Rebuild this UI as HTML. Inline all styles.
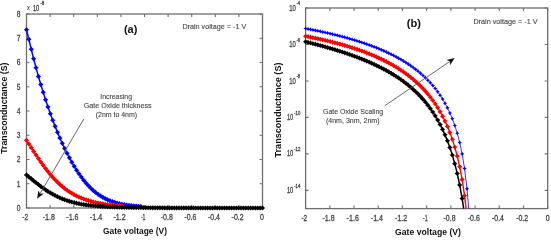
<!DOCTYPE html>
<html><head><meta charset="utf-8"><style>
html,body{margin:0;padding:0;background:#fff;}
body{width:551px;height:240px;overflow:hidden;}
svg{display:block;font-family:"Liberation Sans",sans-serif;will-change:transform;filter:blur(0.3px);}
</style></head><body>
<svg width="551" height="240" viewBox="0 0 551 240">
<rect x="26.5" y="14.0" width="236.00" height="194.00" fill="none" stroke="#6e6e6e" stroke-width="1.3"/>
<path d="M26.50 208.0v-3.0M26.50 14.0v3.0M50.10 208.0v-3.0M50.10 14.0v3.0M73.70 208.0v-3.0M73.70 14.0v3.0M97.30 208.0v-3.0M97.30 14.0v3.0M120.90 208.0v-3.0M120.90 14.0v3.0M144.50 208.0v-3.0M144.50 14.0v3.0M168.10 208.0v-3.0M168.10 14.0v3.0M191.70 208.0v-3.0M191.70 14.0v3.0M215.30 208.0v-3.0M215.30 14.0v3.0M238.90 208.0v-3.0M238.90 14.0v3.0M262.50 208.0v-3.0M262.50 14.0v3.0M26.5 208.00h3.0M262.5 208.00h-3.0M26.5 183.75h3.0M262.5 183.75h-3.0M26.5 159.50h3.0M262.5 159.50h-3.0M26.5 135.25h3.0M262.5 135.25h-3.0M26.5 111.00h3.0M262.5 111.00h-3.0M26.5 86.75h3.0M262.5 86.75h-3.0M26.5 62.50h3.0M262.5 62.50h-3.0M26.5 38.25h3.0M262.5 38.25h-3.0M26.5 14.00h3.0M262.5 14.00h-3.0" stroke="#6e6e6e" stroke-width="1.1" fill="none"/>
<rect x="305.6" y="8.0" width="242.10" height="200.60" fill="none" stroke="#6e6e6e" stroke-width="1.3"/>
<path d="M305.60 208.6v-3.0M305.60 8.0v3.0M329.81 208.6v-3.0M329.81 8.0v3.0M354.02 208.6v-3.0M354.02 8.0v3.0M378.23 208.6v-3.0M378.23 8.0v3.0M402.44 208.6v-3.0M402.44 8.0v3.0M426.65 208.6v-3.0M426.65 8.0v3.0M450.86 208.6v-3.0M450.86 8.0v3.0M475.07 208.6v-3.0M475.07 8.0v3.0M499.28 208.6v-3.0M499.28 8.0v3.0M523.49 208.6v-3.0M523.49 8.0v3.0M547.70 208.6v-3.0M547.70 8.0v3.0M305.6 8.00h3.0M547.7 8.00h-3.0M305.6 44.47h3.0M547.7 44.47h-3.0M305.6 80.95h3.0M547.7 80.95h-3.0M305.6 117.42h3.0M547.7 117.42h-3.0M305.6 153.89h3.0M547.7 153.89h-3.0M305.6 190.36h3.0M547.7 190.36h-3.0" stroke="#6e6e6e" stroke-width="1.1" fill="none"/>
<text x="25.20" y="220.4" font-size="8.7" font-weight="normal" text-anchor="middle" fill="#3c3c3c" stroke="#3c3c3c" stroke-width="0.28" textLength="5.8" lengthAdjust="spacingAndGlyphs">-2</text>
<text x="304.30" y="221.1" font-size="8.7" font-weight="normal" text-anchor="middle" fill="#3c3c3c" stroke="#3c3c3c" stroke-width="0.28" textLength="5.8" lengthAdjust="spacingAndGlyphs">-2</text>
<text x="48.80" y="220.4" font-size="8.7" font-weight="normal" text-anchor="middle" fill="#3c3c3c" stroke="#3c3c3c" stroke-width="0.28" textLength="12.25" lengthAdjust="spacingAndGlyphs">-1.8</text>
<text x="328.51" y="221.1" font-size="8.7" font-weight="normal" text-anchor="middle" fill="#3c3c3c" stroke="#3c3c3c" stroke-width="0.28" textLength="12.25" lengthAdjust="spacingAndGlyphs">-1.8</text>
<text x="72.40" y="220.4" font-size="8.7" font-weight="normal" text-anchor="middle" fill="#3c3c3c" stroke="#3c3c3c" stroke-width="0.28" textLength="12.25" lengthAdjust="spacingAndGlyphs">-1.6</text>
<text x="352.72" y="221.1" font-size="8.7" font-weight="normal" text-anchor="middle" fill="#3c3c3c" stroke="#3c3c3c" stroke-width="0.28" textLength="12.25" lengthAdjust="spacingAndGlyphs">-1.6</text>
<text x="96.00" y="220.4" font-size="8.7" font-weight="normal" text-anchor="middle" fill="#3c3c3c" stroke="#3c3c3c" stroke-width="0.28" textLength="12.25" lengthAdjust="spacingAndGlyphs">-1.4</text>
<text x="376.93" y="221.1" font-size="8.7" font-weight="normal" text-anchor="middle" fill="#3c3c3c" stroke="#3c3c3c" stroke-width="0.28" textLength="12.25" lengthAdjust="spacingAndGlyphs">-1.4</text>
<text x="119.60" y="220.4" font-size="8.7" font-weight="normal" text-anchor="middle" fill="#3c3c3c" stroke="#3c3c3c" stroke-width="0.28" textLength="12.25" lengthAdjust="spacingAndGlyphs">-1.2</text>
<text x="401.14" y="221.1" font-size="8.7" font-weight="normal" text-anchor="middle" fill="#3c3c3c" stroke="#3c3c3c" stroke-width="0.28" textLength="12.25" lengthAdjust="spacingAndGlyphs">-1.2</text>
<text x="143.20" y="220.4" font-size="8.7" font-weight="normal" text-anchor="middle" fill="#3c3c3c" stroke="#3c3c3c" stroke-width="0.28" textLength="4.6" lengthAdjust="spacingAndGlyphs">-1</text>
<text x="425.35" y="221.1" font-size="8.7" font-weight="normal" text-anchor="middle" fill="#3c3c3c" stroke="#3c3c3c" stroke-width="0.28" textLength="4.6" lengthAdjust="spacingAndGlyphs">-1</text>
<text x="166.80" y="220.4" font-size="8.7" font-weight="normal" text-anchor="middle" fill="#3c3c3c" stroke="#3c3c3c" stroke-width="0.28" textLength="12.0" lengthAdjust="spacingAndGlyphs">-0.8</text>
<text x="449.56" y="221.1" font-size="8.7" font-weight="normal" text-anchor="middle" fill="#3c3c3c" stroke="#3c3c3c" stroke-width="0.28" textLength="12.0" lengthAdjust="spacingAndGlyphs">-0.8</text>
<text x="190.40" y="220.4" font-size="8.7" font-weight="normal" text-anchor="middle" fill="#3c3c3c" stroke="#3c3c3c" stroke-width="0.28" textLength="12.0" lengthAdjust="spacingAndGlyphs">-0.6</text>
<text x="473.77" y="221.1" font-size="8.7" font-weight="normal" text-anchor="middle" fill="#3c3c3c" stroke="#3c3c3c" stroke-width="0.28" textLength="12.0" lengthAdjust="spacingAndGlyphs">-0.6</text>
<text x="214.00" y="220.4" font-size="8.7" font-weight="normal" text-anchor="middle" fill="#3c3c3c" stroke="#3c3c3c" stroke-width="0.28" textLength="12.0" lengthAdjust="spacingAndGlyphs">-0.4</text>
<text x="497.98" y="221.1" font-size="8.7" font-weight="normal" text-anchor="middle" fill="#3c3c3c" stroke="#3c3c3c" stroke-width="0.28" textLength="12.0" lengthAdjust="spacingAndGlyphs">-0.4</text>
<text x="237.60" y="220.4" font-size="8.7" font-weight="normal" text-anchor="middle" fill="#3c3c3c" stroke="#3c3c3c" stroke-width="0.28" textLength="12.0" lengthAdjust="spacingAndGlyphs">-0.2</text>
<text x="522.19" y="221.1" font-size="8.7" font-weight="normal" text-anchor="middle" fill="#3c3c3c" stroke="#3c3c3c" stroke-width="0.28" textLength="12.0" lengthAdjust="spacingAndGlyphs">-0.2</text>
<text x="262.00" y="220.4" font-size="8.7" font-weight="normal" text-anchor="middle" fill="#3c3c3c" stroke="#3c3c3c" stroke-width="0.28" textLength="3.9" lengthAdjust="spacingAndGlyphs">0</text>
<text x="547.70" y="221.1" font-size="8.7" font-weight="normal" text-anchor="middle" fill="#3c3c3c" stroke="#3c3c3c" stroke-width="0.28" textLength="3.9" lengthAdjust="spacingAndGlyphs">0</text>
<text x="20.5" y="210.90" font-size="8.6" font-weight="normal" text-anchor="end" fill="#3c3c3c" stroke="#3c3c3c" stroke-width="0.28" textLength="3.7" lengthAdjust="spacingAndGlyphs">0</text>
<text x="20.5" y="186.65" font-size="8.6" font-weight="normal" text-anchor="end" fill="#3c3c3c" stroke="#3c3c3c" stroke-width="0.28" textLength="3.7" lengthAdjust="spacingAndGlyphs">1</text>
<text x="20.5" y="162.40" font-size="8.6" font-weight="normal" text-anchor="end" fill="#3c3c3c" stroke="#3c3c3c" stroke-width="0.28" textLength="3.7" lengthAdjust="spacingAndGlyphs">2</text>
<text x="20.5" y="138.15" font-size="8.6" font-weight="normal" text-anchor="end" fill="#3c3c3c" stroke="#3c3c3c" stroke-width="0.28" textLength="3.7" lengthAdjust="spacingAndGlyphs">3</text>
<text x="20.5" y="113.90" font-size="8.6" font-weight="normal" text-anchor="end" fill="#3c3c3c" stroke="#3c3c3c" stroke-width="0.28" textLength="3.7" lengthAdjust="spacingAndGlyphs">4</text>
<text x="20.5" y="89.65" font-size="8.6" font-weight="normal" text-anchor="end" fill="#3c3c3c" stroke="#3c3c3c" stroke-width="0.28" textLength="3.7" lengthAdjust="spacingAndGlyphs">5</text>
<text x="20.5" y="65.40" font-size="8.6" font-weight="normal" text-anchor="end" fill="#3c3c3c" stroke="#3c3c3c" stroke-width="0.28" textLength="3.7" lengthAdjust="spacingAndGlyphs">6</text>
<text x="20.5" y="41.15" font-size="8.6" font-weight="normal" text-anchor="end" fill="#3c3c3c" stroke="#3c3c3c" stroke-width="0.28" textLength="3.7" lengthAdjust="spacingAndGlyphs">7</text>
<text x="20.5" y="16.90" font-size="8.6" font-weight="normal" text-anchor="end" fill="#3c3c3c" stroke="#3c3c3c" stroke-width="0.28" textLength="3.7" lengthAdjust="spacingAndGlyphs">8</text>
<text x="289.2" y="10.60" font-size="8.8" font-weight="normal" text-anchor="start" fill="#3c3c3c" stroke="#3c3c3c" stroke-width="0.28" textLength="6.6" lengthAdjust="spacingAndGlyphs">10</text>
<text x="296.4" y="5.40" font-size="5.4" font-weight="normal" text-anchor="start" fill="#3c3c3c" stroke="#3c3c3c" stroke-width="0.28" textLength="3.6" lengthAdjust="spacingAndGlyphs">-4</text>
<text x="289.2" y="47.07" font-size="8.8" font-weight="normal" text-anchor="start" fill="#3c3c3c" stroke="#3c3c3c" stroke-width="0.28" textLength="6.6" lengthAdjust="spacingAndGlyphs">10</text>
<text x="296.4" y="41.87" font-size="5.4" font-weight="normal" text-anchor="start" fill="#3c3c3c" stroke="#3c3c3c" stroke-width="0.28" textLength="3.6" lengthAdjust="spacingAndGlyphs">-6</text>
<text x="289.2" y="83.55" font-size="8.8" font-weight="normal" text-anchor="start" fill="#3c3c3c" stroke="#3c3c3c" stroke-width="0.28" textLength="6.6" lengthAdjust="spacingAndGlyphs">10</text>
<text x="296.4" y="78.35" font-size="5.4" font-weight="normal" text-anchor="start" fill="#3c3c3c" stroke="#3c3c3c" stroke-width="0.28" textLength="3.6" lengthAdjust="spacingAndGlyphs">-8</text>
<text x="286.9" y="120.02" font-size="8.8" font-weight="normal" text-anchor="start" fill="#3c3c3c" stroke="#3c3c3c" stroke-width="0.28" textLength="6.4" lengthAdjust="spacingAndGlyphs">10</text>
<text x="294.1" y="114.82" font-size="5.4" font-weight="normal" text-anchor="start" fill="#3c3c3c" stroke="#3c3c3c" stroke-width="0.28" textLength="6.2" lengthAdjust="spacingAndGlyphs">-10</text>
<text x="286.9" y="156.49" font-size="8.8" font-weight="normal" text-anchor="start" fill="#3c3c3c" stroke="#3c3c3c" stroke-width="0.28" textLength="6.4" lengthAdjust="spacingAndGlyphs">10</text>
<text x="294.1" y="151.29" font-size="5.4" font-weight="normal" text-anchor="start" fill="#3c3c3c" stroke="#3c3c3c" stroke-width="0.28" textLength="6.2" lengthAdjust="spacingAndGlyphs">-12</text>
<text x="286.9" y="192.96" font-size="8.8" font-weight="normal" text-anchor="start" fill="#3c3c3c" stroke="#3c3c3c" stroke-width="0.28" textLength="6.4" lengthAdjust="spacingAndGlyphs">10</text>
<text x="294.1" y="187.76" font-size="5.4" font-weight="normal" text-anchor="start" fill="#3c3c3c" stroke="#3c3c3c" stroke-width="0.28" textLength="6.2" lengthAdjust="spacingAndGlyphs">-14</text>
<text x="27.1" y="9.9" font-size="6.6" font-weight="normal" text-anchor="start" fill="#3c3c3c" stroke="#3c3c3c" stroke-width="0.1" textLength="2.8" lengthAdjust="spacingAndGlyphs">x</text>
<text x="32.9" y="10.7" font-size="9.0" font-weight="normal" text-anchor="start" fill="#3c3c3c" stroke="#3c3c3c" stroke-width="0.28" textLength="6.4" lengthAdjust="spacingAndGlyphs">10</text>
<text x="40.2" y="5.4" font-size="6.0" font-weight="normal" text-anchor="start" fill="#3c3c3c" stroke="#3c3c3c" stroke-width="0.28" textLength="4.0" lengthAdjust="spacingAndGlyphs">-8</text>
<path d="M26.50 29.70 L28.88 39.36 L31.27 49.35 L33.65 58.84 L36.04 67.84 L38.42 76.42 L40.80 84.58 L43.19 92.37 L45.57 99.81 L47.95 106.91 L50.34 113.70 L52.72 120.18 L55.11 126.37 L57.49 132.28 L59.87 137.92 L62.26 143.29 L64.64 148.39 L67.03 153.24 L69.41 157.84 L71.79 162.19 L74.18 166.29 L76.56 170.14 L78.94 173.76 L81.33 177.12 L83.71 180.25 L86.10 183.14 L88.48 185.79 L90.86 188.23 L93.25 190.44 L95.63 192.44 L98.02 194.25 L100.40 195.86 L102.78 197.30 L105.17 198.58 L107.55 199.72 L109.93 200.72 L112.32 201.60 L114.70 202.37 L117.09 203.05 L119.47 203.64 L121.85 204.15 L124.24 204.60 L126.62 204.99 L129.01 205.33 L131.39 205.62 L133.77 205.88 L136.16 206.10 L138.54 206.29 L140.92 206.45" fill="none" stroke="#0000ff" stroke-width="1.5"/>
<path d="M23.90 29.70L25.25 28.45L26.50 27.10L27.75 28.45L29.10 29.70L27.75 30.95L26.50 32.30L25.25 30.95ZM26.28 39.36L27.63 38.11L28.88 36.76L30.13 38.11L31.48 39.36L30.13 40.61L28.88 41.96L27.63 40.61ZM28.67 49.35L30.02 48.10L31.27 46.75L32.52 48.10L33.87 49.35L32.52 50.60L31.27 51.95L30.02 50.60ZM31.05 58.84L32.40 57.59L33.65 56.24L34.90 57.59L36.25 58.84L34.90 60.09L33.65 61.44L32.40 60.09ZM33.44 67.84L34.79 66.59L36.04 65.24L37.29 66.59L38.64 67.84L37.29 69.09L36.04 70.44L34.79 69.09ZM35.82 76.42L37.17 75.17L38.42 73.82L39.67 75.17L41.02 76.42L39.67 77.67L38.42 79.02L37.17 77.67ZM38.20 84.58L39.55 83.33L40.80 81.98L42.05 83.33L43.40 84.58L42.05 85.83L40.80 87.18L39.55 85.83ZM40.59 92.37L41.94 91.12L43.19 89.77L44.44 91.12L45.79 92.37L44.44 93.62L43.19 94.97L41.94 93.62ZM42.97 99.81L44.32 98.56L45.57 97.21L46.82 98.56L48.17 99.81L46.82 101.06L45.57 102.41L44.32 101.06ZM45.35 106.91L46.70 105.66L47.95 104.31L49.20 105.66L50.55 106.91L49.20 108.16L47.95 109.51L46.70 108.16ZM47.74 113.70L49.09 112.45L50.34 111.10L51.59 112.45L52.94 113.70L51.59 114.95L50.34 116.30L49.09 114.95ZM50.12 120.18L51.47 118.93L52.72 117.58L53.97 118.93L55.32 120.18L53.97 121.43L52.72 122.78L51.47 121.43ZM52.51 126.37L53.86 125.12L55.11 123.77L56.36 125.12L57.71 126.37L56.36 127.62L55.11 128.97L53.86 127.62ZM54.89 132.28L56.24 131.03L57.49 129.68L58.74 131.03L60.09 132.28L58.74 133.53L57.49 134.88L56.24 133.53ZM57.27 137.92L58.62 136.67L59.87 135.32L61.12 136.67L62.47 137.92L61.12 139.17L59.87 140.52L58.62 139.17ZM59.66 143.29L61.01 142.04L62.26 140.69L63.51 142.04L64.86 143.29L63.51 144.54L62.26 145.89L61.01 144.54ZM62.04 148.39L63.39 147.14L64.64 145.79L65.89 147.14L67.24 148.39L65.89 149.64L64.64 150.99L63.39 149.64ZM64.43 153.24L65.78 151.99L67.03 150.64L68.28 151.99L69.63 153.24L68.28 154.49L67.03 155.84L65.78 154.49ZM66.81 157.84L68.16 156.59L69.41 155.24L70.66 156.59L72.01 157.84L70.66 159.09L69.41 160.44L68.16 159.09ZM69.19 162.19L70.54 160.94L71.79 159.59L73.04 160.94L74.39 162.19L73.04 163.44L71.79 164.79L70.54 163.44ZM71.58 166.29L72.93 165.04L74.18 163.69L75.43 165.04L76.78 166.29L75.43 167.54L74.18 168.89L72.93 167.54ZM73.96 170.14L75.31 168.89L76.56 167.54L77.81 168.89L79.16 170.14L77.81 171.39L76.56 172.74L75.31 171.39ZM76.34 173.76L77.69 172.51L78.94 171.16L80.19 172.51L81.54 173.76L80.19 175.01L78.94 176.36L77.69 175.01ZM78.73 177.12L80.08 175.87L81.33 174.52L82.58 175.87L83.93 177.12L82.58 178.37L81.33 179.72L80.08 178.37ZM81.11 180.25L82.46 179.00L83.71 177.65L84.96 179.00L86.31 180.25L84.96 181.50L83.71 182.85L82.46 181.50ZM83.50 183.14L84.85 181.89L86.10 180.54L87.35 181.89L88.70 183.14L87.35 184.39L86.10 185.74L84.85 184.39ZM85.88 185.79L87.23 184.54L88.48 183.19L89.73 184.54L91.08 185.79L89.73 187.04L88.48 188.39L87.23 187.04ZM88.26 188.23L89.61 186.98L90.86 185.63L92.11 186.98L93.46 188.23L92.11 189.48L90.86 190.83L89.61 189.48ZM90.65 190.44L92.00 189.19L93.25 187.84L94.50 189.19L95.85 190.44L94.50 191.69L93.25 193.04L92.00 191.69ZM93.03 192.44L94.38 191.19L95.63 189.84L96.88 191.19L98.23 192.44L96.88 193.69L95.63 195.04L94.38 193.69ZM95.42 194.25L96.77 193.00L98.02 191.65L99.27 193.00L100.62 194.25L99.27 195.50L98.02 196.85L96.77 195.50ZM97.80 195.86L99.15 194.61L100.40 193.26L101.65 194.61L103.00 195.86L101.65 197.11L100.40 198.46L99.15 197.11ZM100.18 197.30L101.53 196.05L102.78 194.70L104.03 196.05L105.38 197.30L104.03 198.55L102.78 199.90L101.53 198.55ZM102.57 198.58L103.92 197.33L105.17 195.98L106.42 197.33L107.77 198.58L106.42 199.83L105.17 201.18L103.92 199.83ZM104.95 199.72L106.30 198.47L107.55 197.12L108.80 198.47L110.15 199.72L108.80 200.97L107.55 202.32L106.30 200.97ZM107.33 200.72L108.68 199.47L109.93 198.12L111.18 199.47L112.53 200.72L111.18 201.97L109.93 203.32L108.68 201.97ZM109.72 201.60L111.07 200.35L112.32 199.00L113.57 200.35L114.92 201.60L113.57 202.85L112.32 204.20L111.07 202.85ZM112.10 202.37L113.45 201.12L114.70 199.77L115.95 201.12L117.30 202.37L115.95 203.62L114.70 204.97L113.45 203.62ZM114.49 203.05L115.84 201.80L117.09 200.45L118.34 201.80L119.69 203.05L118.34 204.30L117.09 205.65L115.84 204.30ZM116.87 203.64L118.22 202.39L119.47 201.04L120.72 202.39L122.07 203.64L120.72 204.89L119.47 206.24L118.22 204.89ZM119.25 204.15L120.60 202.90L121.85 201.55L123.10 202.90L124.45 204.15L123.10 205.40L121.85 206.75L120.60 205.40ZM121.64 204.60L122.99 203.35L124.24 202.00L125.49 203.35L126.84 204.60L125.49 205.85L124.24 207.20L122.99 205.85ZM124.02 204.99L125.37 203.74L126.62 202.39L127.87 203.74L129.22 204.99L127.87 206.24L126.62 207.59L125.37 206.24ZM126.41 205.33L127.76 204.08L129.01 202.73L130.26 204.08L131.61 205.33L130.26 206.58L129.01 207.93L127.76 206.58ZM128.79 205.62L130.14 204.37L131.39 203.02L132.64 204.37L133.99 205.62L132.64 206.87L131.39 208.22L130.14 206.87ZM131.17 205.88L132.52 204.63L133.77 203.28L135.02 204.63L136.37 205.88L135.02 207.13L133.77 208.48L132.52 207.13ZM133.56 206.10L134.91 204.85L136.16 203.50L137.41 204.85L138.76 206.10L137.41 207.35L136.16 208.70L134.91 207.35ZM135.94 206.29L137.29 205.04L138.54 203.69L139.79 205.04L141.14 206.29L139.79 207.54L138.54 208.89L137.29 207.54ZM138.32 206.45L139.67 205.20L140.92 203.85L142.17 205.20L143.52 206.45L142.17 207.70L140.92 209.05L139.67 207.70Z" fill="#0000ff"/>
<path d="M26.50 140.28 L28.88 143.98 L31.27 147.70 L33.65 151.39 L36.04 155.03 L38.42 158.58 L40.80 162.03 L43.19 165.36 L45.57 168.55 L47.95 171.60 L50.34 174.48 L52.72 177.20 L55.11 179.76 L57.49 182.16 L59.87 184.39 L62.26 186.46 L64.64 188.38 L67.03 190.15 L69.41 191.78 L71.79 193.27 L74.18 194.64 L76.56 195.89 L78.94 197.02 L81.33 198.06 L83.71 199.00 L86.10 199.85 L88.48 200.61 L90.86 201.31 L93.25 201.94 L95.63 202.50 L98.02 203.01 L100.40 203.47 L102.78 203.88 L105.17 204.25 L107.55 204.58 L109.93 204.88 L112.32 205.15 L114.70 205.39 L117.09 205.60 L119.47 205.79 L121.85 205.97" fill="none" stroke="#ff0000" stroke-width="1.5"/>
<path d="M23.90 140.28L25.25 139.03L26.50 137.68L27.75 139.03L29.10 140.28L27.75 141.53L26.50 142.88L25.25 141.53ZM26.28 143.98L27.63 142.73L28.88 141.38L30.13 142.73L31.48 143.98L30.13 145.23L28.88 146.58L27.63 145.23ZM28.67 147.70L30.02 146.45L31.27 145.10L32.52 146.45L33.87 147.70L32.52 148.95L31.27 150.30L30.02 148.95ZM31.05 151.39L32.40 150.14L33.65 148.79L34.90 150.14L36.25 151.39L34.90 152.64L33.65 153.99L32.40 152.64ZM33.44 155.03L34.79 153.78L36.04 152.43L37.29 153.78L38.64 155.03L37.29 156.28L36.04 157.63L34.79 156.28ZM35.82 158.58L37.17 157.33L38.42 155.98L39.67 157.33L41.02 158.58L39.67 159.83L38.42 161.18L37.17 159.83ZM38.20 162.03L39.55 160.78L40.80 159.43L42.05 160.78L43.40 162.03L42.05 163.28L40.80 164.63L39.55 163.28ZM40.59 165.36L41.94 164.11L43.19 162.76L44.44 164.11L45.79 165.36L44.44 166.61L43.19 167.96L41.94 166.61ZM42.97 168.55L44.32 167.30L45.57 165.95L46.82 167.30L48.17 168.55L46.82 169.80L45.57 171.15L44.32 169.80ZM45.35 171.60L46.70 170.35L47.95 169.00L49.20 170.35L50.55 171.60L49.20 172.85L47.95 174.20L46.70 172.85ZM47.74 174.48L49.09 173.23L50.34 171.88L51.59 173.23L52.94 174.48L51.59 175.73L50.34 177.08L49.09 175.73ZM50.12 177.20L51.47 175.95L52.72 174.60L53.97 175.95L55.32 177.20L53.97 178.45L52.72 179.80L51.47 178.45ZM52.51 179.76L53.86 178.51L55.11 177.16L56.36 178.51L57.71 179.76L56.36 181.01L55.11 182.36L53.86 181.01ZM54.89 182.16L56.24 180.91L57.49 179.56L58.74 180.91L60.09 182.16L58.74 183.41L57.49 184.76L56.24 183.41ZM57.27 184.39L58.62 183.14L59.87 181.79L61.12 183.14L62.47 184.39L61.12 185.64L59.87 186.99L58.62 185.64ZM59.66 186.46L61.01 185.21L62.26 183.86L63.51 185.21L64.86 186.46L63.51 187.71L62.26 189.06L61.01 187.71ZM62.04 188.38L63.39 187.13L64.64 185.78L65.89 187.13L67.24 188.38L65.89 189.63L64.64 190.98L63.39 189.63ZM64.43 190.15L65.78 188.90L67.03 187.55L68.28 188.90L69.63 190.15L68.28 191.40L67.03 192.75L65.78 191.40ZM66.81 191.78L68.16 190.53L69.41 189.18L70.66 190.53L72.01 191.78L70.66 193.03L69.41 194.38L68.16 193.03ZM69.19 193.27L70.54 192.02L71.79 190.67L73.04 192.02L74.39 193.27L73.04 194.52L71.79 195.87L70.54 194.52ZM71.58 194.64L72.93 193.39L74.18 192.04L75.43 193.39L76.78 194.64L75.43 195.89L74.18 197.24L72.93 195.89ZM73.96 195.89L75.31 194.64L76.56 193.29L77.81 194.64L79.16 195.89L77.81 197.14L76.56 198.49L75.31 197.14ZM76.34 197.02L77.69 195.77L78.94 194.42L80.19 195.77L81.54 197.02L80.19 198.27L78.94 199.62L77.69 198.27ZM78.73 198.06L80.08 196.81L81.33 195.46L82.58 196.81L83.93 198.06L82.58 199.31L81.33 200.66L80.08 199.31ZM81.11 199.00L82.46 197.75L83.71 196.40L84.96 197.75L86.31 199.00L84.96 200.25L83.71 201.60L82.46 200.25ZM83.50 199.85L84.85 198.60L86.10 197.25L87.35 198.60L88.70 199.85L87.35 201.10L86.10 202.45L84.85 201.10ZM85.88 200.61L87.23 199.36L88.48 198.01L89.73 199.36L91.08 200.61L89.73 201.86L88.48 203.21L87.23 201.86ZM88.26 201.31L89.61 200.06L90.86 198.71L92.11 200.06L93.46 201.31L92.11 202.56L90.86 203.91L89.61 202.56ZM90.65 201.94L92.00 200.69L93.25 199.34L94.50 200.69L95.85 201.94L94.50 203.19L93.25 204.54L92.00 203.19ZM93.03 202.50L94.38 201.25L95.63 199.90L96.88 201.25L98.23 202.50L96.88 203.75L95.63 205.10L94.38 203.75ZM95.42 203.01L96.77 201.76L98.02 200.41L99.27 201.76L100.62 203.01L99.27 204.26L98.02 205.61L96.77 204.26ZM97.80 203.47L99.15 202.22L100.40 200.87L101.65 202.22L103.00 203.47L101.65 204.72L100.40 206.07L99.15 204.72ZM100.18 203.88L101.53 202.63L102.78 201.28L104.03 202.63L105.38 203.88L104.03 205.13L102.78 206.48L101.53 205.13ZM102.57 204.25L103.92 203.00L105.17 201.65L106.42 203.00L107.77 204.25L106.42 205.50L105.17 206.85L103.92 205.50ZM104.95 204.58L106.30 203.33L107.55 201.98L108.80 203.33L110.15 204.58L108.80 205.83L107.55 207.18L106.30 205.83ZM107.33 204.88L108.68 203.63L109.93 202.28L111.18 203.63L112.53 204.88L111.18 206.13L109.93 207.48L108.68 206.13ZM109.72 205.15L111.07 203.90L112.32 202.55L113.57 203.90L114.92 205.15L113.57 206.40L112.32 207.75L111.07 206.40ZM112.10 205.39L113.45 204.14L114.70 202.79L115.95 204.14L117.30 205.39L115.95 206.64L114.70 207.99L113.45 206.64ZM114.49 205.60L115.84 204.35L117.09 203.00L118.34 204.35L119.69 205.60L118.34 206.85L117.09 208.20L115.84 206.85ZM116.87 205.79L118.22 204.54L119.47 203.19L120.72 204.54L122.07 205.79L120.72 207.04L119.47 208.39L118.22 207.04ZM119.25 205.97L120.60 204.72L121.85 203.37L123.10 204.72L124.45 205.97L123.10 207.22L121.85 208.57L120.60 207.22Z" fill="#ff0000"/>
<path d="M26.50 174.91 L28.88 176.88 L31.27 178.85 L33.65 180.81 L36.04 182.74 L38.42 184.61 L40.80 186.42 L43.19 188.16 L45.57 189.81 L47.95 191.38 L50.34 192.85 L52.72 194.22 L55.11 195.50 L57.49 196.68 L59.87 197.78 L62.26 198.78 L64.64 199.70 L67.03 200.54 L69.41 201.30 L71.79 201.99 L74.18 202.61 L76.56 203.17 L78.94 203.68 L81.33 204.13 L83.71 204.53 L86.10 204.90 L88.48 205.22 L90.86 205.51 L93.25 205.77 L95.63 206.00 L98.02 206.20 L100.40 206.38 L102.78 206.54 L105.17 206.69 L107.55 206.81 L109.93 206.92 L112.32 207.02 L114.70 207.11 L117.09 207.19 L119.47 207.26 L121.85 207.32 L124.24 207.37 L126.62 207.42 L129.01 207.47 L131.39 207.50 L133.77 207.54 L136.16 207.56 L138.54 207.59 L140.92 207.62 L143.31 207.67 L145.69 207.70 L148.08 207.74 L150.46 207.77 L152.84 207.79 L155.23 207.82 L157.61 207.84 L159.99 207.86 L162.38 207.87 L164.76 207.89 L167.15 207.90 L169.53 207.91 L171.91 207.92 L174.30 207.93 L176.68 207.94 L179.07 207.95 L181.45 207.95 L183.83 207.96 L186.22 207.96 L188.60 207.97 L190.98 207.97 L193.37 207.97 L195.75 207.98 L198.14 207.98 L200.52 207.98 L202.90 207.98 L205.29 207.99 L207.67 207.99 L210.06 207.99 L212.44 207.99 L214.82 207.99 L217.21 207.99 L219.59 207.99 L221.97 207.99 L224.36 207.99 L226.74 208.00 L229.13 208.00 L231.51 208.00 L233.89 208.00 L236.28 208.00 L238.66 208.00 L241.05 208.00 L243.43 208.00 L245.81 208.00 L248.20 208.00 L250.58 208.00 L252.96 208.00 L255.35 208.00 L257.73 208.00 L260.12 208.00 L262.50 208.00" fill="none" stroke="#000000" stroke-width="1.5"/>
<path d="M23.90 174.91L25.25 173.66L26.50 172.31L27.75 173.66L29.10 174.91L27.75 176.16L26.50 177.51L25.25 176.16ZM26.28 176.88L27.63 175.63L28.88 174.28L30.13 175.63L31.48 176.88L30.13 178.13L28.88 179.48L27.63 178.13ZM28.67 178.85L30.02 177.60L31.27 176.25L32.52 177.60L33.87 178.85L32.52 180.10L31.27 181.45L30.02 180.10ZM31.05 180.81L32.40 179.56L33.65 178.21L34.90 179.56L36.25 180.81L34.90 182.06L33.65 183.41L32.40 182.06ZM33.44 182.74L34.79 181.49L36.04 180.14L37.29 181.49L38.64 182.74L37.29 183.99L36.04 185.34L34.79 183.99ZM35.82 184.61L37.17 183.36L38.42 182.01L39.67 183.36L41.02 184.61L39.67 185.86L38.42 187.21L37.17 185.86ZM38.20 186.42L39.55 185.17L40.80 183.82L42.05 185.17L43.40 186.42L42.05 187.67L40.80 189.02L39.55 187.67ZM40.59 188.16L41.94 186.91L43.19 185.56L44.44 186.91L45.79 188.16L44.44 189.41L43.19 190.76L41.94 189.41ZM42.97 189.81L44.32 188.56L45.57 187.21L46.82 188.56L48.17 189.81L46.82 191.06L45.57 192.41L44.32 191.06ZM45.35 191.38L46.70 190.13L47.95 188.78L49.20 190.13L50.55 191.38L49.20 192.63L47.95 193.98L46.70 192.63ZM47.74 192.85L49.09 191.60L50.34 190.25L51.59 191.60L52.94 192.85L51.59 194.10L50.34 195.45L49.09 194.10ZM50.12 194.22L51.47 192.97L52.72 191.62L53.97 192.97L55.32 194.22L53.97 195.47L52.72 196.82L51.47 195.47ZM52.51 195.50L53.86 194.25L55.11 192.90L56.36 194.25L57.71 195.50L56.36 196.75L55.11 198.10L53.86 196.75ZM54.89 196.68L56.24 195.43L57.49 194.08L58.74 195.43L60.09 196.68L58.74 197.93L57.49 199.28L56.24 197.93ZM57.27 197.78L58.62 196.53L59.87 195.18L61.12 196.53L62.47 197.78L61.12 199.03L59.87 200.38L58.62 199.03ZM59.66 198.78L61.01 197.53L62.26 196.18L63.51 197.53L64.86 198.78L63.51 200.03L62.26 201.38L61.01 200.03ZM62.04 199.70L63.39 198.45L64.64 197.10L65.89 198.45L67.24 199.70L65.89 200.95L64.64 202.30L63.39 200.95ZM64.43 200.54L65.78 199.29L67.03 197.94L68.28 199.29L69.63 200.54L68.28 201.79L67.03 203.14L65.78 201.79ZM66.81 201.30L68.16 200.05L69.41 198.70L70.66 200.05L72.01 201.30L70.66 202.55L69.41 203.90L68.16 202.55ZM69.19 201.99L70.54 200.74L71.79 199.39L73.04 200.74L74.39 201.99L73.04 203.24L71.79 204.59L70.54 203.24ZM71.58 202.61L72.93 201.36L74.18 200.01L75.43 201.36L76.78 202.61L75.43 203.86L74.18 205.21L72.93 203.86ZM73.96 203.17L75.31 201.92L76.56 200.57L77.81 201.92L79.16 203.17L77.81 204.42L76.56 205.77L75.31 204.42ZM76.34 203.68L77.69 202.43L78.94 201.08L80.19 202.43L81.54 203.68L80.19 204.93L78.94 206.28L77.69 204.93ZM78.73 204.13L80.08 202.88L81.33 201.53L82.58 202.88L83.93 204.13L82.58 205.38L81.33 206.73L80.08 205.38ZM81.11 204.53L82.46 203.28L83.71 201.93L84.96 203.28L86.31 204.53L84.96 205.78L83.71 207.13L82.46 205.78ZM83.50 204.90L84.85 203.65L86.10 202.30L87.35 203.65L88.70 204.90L87.35 206.15L86.10 207.50L84.85 206.15ZM85.88 205.22L87.23 203.97L88.48 202.62L89.73 203.97L91.08 205.22L89.73 206.47L88.48 207.82L87.23 206.47ZM88.26 205.51L89.61 204.26L90.86 202.91L92.11 204.26L93.46 205.51L92.11 206.76L90.86 208.11L89.61 206.76ZM90.65 205.77L92.00 204.52L93.25 203.17L94.50 204.52L95.85 205.77L94.50 207.02L93.25 208.37L92.00 207.02ZM93.03 206.00L94.38 204.75L95.63 203.40L96.88 204.75L98.23 206.00L96.88 207.25L95.63 208.60L94.38 207.25ZM95.42 206.20L96.77 204.95L98.02 203.60L99.27 204.95L100.62 206.20L99.27 207.45L98.02 208.80L96.77 207.45ZM97.80 206.38L99.15 205.13L100.40 203.78L101.65 205.13L103.00 206.38L101.65 207.63L100.40 208.98L99.15 207.63ZM100.18 206.54L101.53 205.29L102.78 203.94L104.03 205.29L105.38 206.54L104.03 207.79L102.78 209.14L101.53 207.79ZM102.57 206.69L103.92 205.44L105.17 204.09L106.42 205.44L107.77 206.69L106.42 207.94L105.17 209.29L103.92 207.94ZM104.95 206.81L106.30 205.56L107.55 204.21L108.80 205.56L110.15 206.81L108.80 208.06L107.55 209.41L106.30 208.06ZM107.33 206.92L108.68 205.67L109.93 204.32L111.18 205.67L112.53 206.92L111.18 208.17L109.93 209.52L108.68 208.17ZM109.72 207.02L111.07 205.77L112.32 204.42L113.57 205.77L114.92 207.02L113.57 208.27L112.32 209.62L111.07 208.27ZM112.10 207.11L113.45 205.86L114.70 204.51L115.95 205.86L117.30 207.11L115.95 208.36L114.70 209.71L113.45 208.36ZM114.49 207.19L115.84 205.94L117.09 204.59L118.34 205.94L119.69 207.19L118.34 208.44L117.09 209.79L115.84 208.44ZM116.87 207.26L118.22 206.01L119.47 204.66L120.72 206.01L122.07 207.26L120.72 208.51L119.47 209.86L118.22 208.51ZM119.25 207.32L120.60 206.07L121.85 204.72L123.10 206.07L124.45 207.32L123.10 208.57L121.85 209.92L120.60 208.57ZM121.64 207.37L122.99 206.12L124.24 204.77L125.49 206.12L126.84 207.37L125.49 208.62L124.24 209.97L122.99 208.62ZM124.02 207.42L125.37 206.17L126.62 204.82L127.87 206.17L129.22 207.42L127.87 208.67L126.62 210.02L125.37 208.67ZM126.41 207.47L127.76 206.22L129.01 204.87L130.26 206.22L131.61 207.47L130.26 208.72L129.01 210.07L127.76 208.72ZM128.79 207.50L130.14 206.25L131.39 204.90L132.64 206.25L133.99 207.50L132.64 208.75L131.39 210.10L130.14 208.75ZM131.17 207.54L132.52 206.29L133.77 204.94L135.02 206.29L136.37 207.54L135.02 208.79L133.77 210.14L132.52 208.79ZM133.56 207.56L134.91 206.31L136.16 204.96L137.41 206.31L138.76 207.56L137.41 208.81L136.16 210.16L134.91 208.81ZM135.94 207.59L137.29 206.34L138.54 204.99L139.79 206.34L141.14 207.59L139.79 208.84L138.54 210.19L137.29 208.84ZM138.32 207.62L139.67 206.37L140.92 205.02L142.17 206.37L143.52 207.62L142.17 208.87L140.92 210.22L139.67 208.87ZM140.71 207.67L142.06 206.42L143.31 205.07L144.56 206.42L145.91 207.67L144.56 208.92L143.31 210.27L142.06 208.92ZM143.09 207.70L144.44 206.45L145.69 205.10L146.94 206.45L148.29 207.70L146.94 208.95L145.69 210.30L144.44 208.95ZM145.48 207.74L146.83 206.49L148.08 205.14L149.33 206.49L150.68 207.74L149.33 208.99L148.08 210.34L146.83 208.99ZM147.86 207.77L149.21 206.52L150.46 205.17L151.71 206.52L153.06 207.77L151.71 209.02L150.46 210.37L149.21 209.02ZM150.24 207.79L151.59 206.54L152.84 205.19L154.09 206.54L155.44 207.79L154.09 209.04L152.84 210.39L151.59 209.04ZM152.63 207.82L153.98 206.57L155.23 205.22L156.48 206.57L157.83 207.82L156.48 209.07L155.23 210.42L153.98 209.07ZM155.01 207.84L156.36 206.59L157.61 205.24L158.86 206.59L160.21 207.84L158.86 209.09L157.61 210.44L156.36 209.09ZM157.39 207.86L158.74 206.61L159.99 205.26L161.24 206.61L162.59 207.86L161.24 209.11L159.99 210.46L158.74 209.11ZM159.78 207.87L161.13 206.62L162.38 205.27L163.63 206.62L164.98 207.87L163.63 209.12L162.38 210.47L161.13 209.12ZM162.16 207.89L163.51 206.64L164.76 205.29L166.01 206.64L167.36 207.89L166.01 209.14L164.76 210.49L163.51 209.14ZM164.55 207.90L165.90 206.65L167.15 205.30L168.40 206.65L169.75 207.90L168.40 209.15L167.15 210.50L165.90 209.15ZM166.93 207.91L168.28 206.66L169.53 205.31L170.78 206.66L172.13 207.91L170.78 209.16L169.53 210.51L168.28 209.16ZM169.31 207.92L170.66 206.67L171.91 205.32L173.16 206.67L174.51 207.92L173.16 209.17L171.91 210.52L170.66 209.17ZM171.70 207.93L173.05 206.68L174.30 205.33L175.55 206.68L176.90 207.93L175.55 209.18L174.30 210.53L173.05 209.18ZM174.08 207.94L175.43 206.69L176.68 205.34L177.93 206.69L179.28 207.94L177.93 209.19L176.68 210.54L175.43 209.19ZM176.47 207.95L177.82 206.70L179.07 205.35L180.32 206.70L181.67 207.95L180.32 209.20L179.07 210.55L177.82 209.20ZM178.85 207.95L180.20 206.70L181.45 205.35L182.70 206.70L184.05 207.95L182.70 209.20L181.45 210.55L180.20 209.20ZM181.23 207.96L182.58 206.71L183.83 205.36L185.08 206.71L186.43 207.96L185.08 209.21L183.83 210.56L182.58 209.21ZM183.62 207.96L184.97 206.71L186.22 205.36L187.47 206.71L188.82 207.96L187.47 209.21L186.22 210.56L184.97 209.21ZM186.00 207.97L187.35 206.72L188.60 205.37L189.85 206.72L191.20 207.97L189.85 209.22L188.60 210.57L187.35 209.22ZM188.38 207.97L189.73 206.72L190.98 205.37L192.23 206.72L193.58 207.97L192.23 209.22L190.98 210.57L189.73 209.22ZM190.77 207.97L192.12 206.72L193.37 205.37L194.62 206.72L195.97 207.97L194.62 209.22L193.37 210.57L192.12 209.22ZM193.15 207.98L194.50 206.73L195.75 205.38L197.00 206.73L198.35 207.98L197.00 209.23L195.75 210.58L194.50 209.23ZM195.54 207.98L196.89 206.73L198.14 205.38L199.39 206.73L200.74 207.98L199.39 209.23L198.14 210.58L196.89 209.23ZM197.92 207.98L199.27 206.73L200.52 205.38L201.77 206.73L203.12 207.98L201.77 209.23L200.52 210.58L199.27 209.23ZM200.30 207.98L201.65 206.73L202.90 205.38L204.15 206.73L205.50 207.98L204.15 209.23L202.90 210.58L201.65 209.23ZM202.69 207.99L204.04 206.74L205.29 205.39L206.54 206.74L207.89 207.99L206.54 209.24L205.29 210.59L204.04 209.24ZM205.07 207.99L206.42 206.74L207.67 205.39L208.92 206.74L210.27 207.99L208.92 209.24L207.67 210.59L206.42 209.24ZM207.46 207.99L208.81 206.74L210.06 205.39L211.31 206.74L212.66 207.99L211.31 209.24L210.06 210.59L208.81 209.24ZM209.84 207.99L211.19 206.74L212.44 205.39L213.69 206.74L215.04 207.99L213.69 209.24L212.44 210.59L211.19 209.24ZM212.22 207.99L213.57 206.74L214.82 205.39L216.07 206.74L217.42 207.99L216.07 209.24L214.82 210.59L213.57 209.24ZM214.61 207.99L215.96 206.74L217.21 205.39L218.46 206.74L219.81 207.99L218.46 209.24L217.21 210.59L215.96 209.24ZM216.99 207.99L218.34 206.74L219.59 205.39L220.84 206.74L222.19 207.99L220.84 209.24L219.59 210.59L218.34 209.24ZM219.37 207.99L220.72 206.74L221.97 205.39L223.22 206.74L224.57 207.99L223.22 209.24L221.97 210.59L220.72 209.24ZM221.76 207.99L223.11 206.74L224.36 205.39L225.61 206.74L226.96 207.99L225.61 209.24L224.36 210.59L223.11 209.24ZM224.14 208.00L225.49 206.75L226.74 205.40L227.99 206.75L229.34 208.00L227.99 209.25L226.74 210.60L225.49 209.25ZM226.53 208.00L227.88 206.75L229.13 205.40L230.38 206.75L231.73 208.00L230.38 209.25L229.13 210.60L227.88 209.25ZM228.91 208.00L230.26 206.75L231.51 205.40L232.76 206.75L234.11 208.00L232.76 209.25L231.51 210.60L230.26 209.25ZM231.29 208.00L232.64 206.75L233.89 205.40L235.14 206.75L236.49 208.00L235.14 209.25L233.89 210.60L232.64 209.25ZM233.68 208.00L235.03 206.75L236.28 205.40L237.53 206.75L238.88 208.00L237.53 209.25L236.28 210.60L235.03 209.25ZM236.06 208.00L237.41 206.75L238.66 205.40L239.91 206.75L241.26 208.00L239.91 209.25L238.66 210.60L237.41 209.25ZM238.45 208.00L239.80 206.75L241.05 205.40L242.30 206.75L243.65 208.00L242.30 209.25L241.05 210.60L239.80 209.25ZM240.83 208.00L242.18 206.75L243.43 205.40L244.68 206.75L246.03 208.00L244.68 209.25L243.43 210.60L242.18 209.25ZM243.21 208.00L244.56 206.75L245.81 205.40L247.06 206.75L248.41 208.00L247.06 209.25L245.81 210.60L244.56 209.25ZM245.60 208.00L246.95 206.75L248.20 205.40L249.45 206.75L250.80 208.00L249.45 209.25L248.20 210.60L246.95 209.25ZM247.98 208.00L249.33 206.75L250.58 205.40L251.83 206.75L253.18 208.00L251.83 209.25L250.58 210.60L249.33 209.25ZM250.36 208.00L251.71 206.75L252.96 205.40L254.21 206.75L255.56 208.00L254.21 209.25L252.96 210.60L251.71 209.25ZM252.75 208.00L254.10 206.75L255.35 205.40L256.60 206.75L257.95 208.00L256.60 209.25L255.35 210.60L254.10 209.25ZM255.13 208.00L256.48 206.75L257.73 205.40L258.98 206.75L260.33 208.00L258.98 209.25L257.73 210.60L256.48 209.25ZM257.52 208.00L258.87 206.75L260.12 205.40L261.37 206.75L262.72 208.00L261.37 209.25L260.12 210.60L258.87 209.25ZM259.90 208.00L261.25 206.75L262.50 205.40L263.75 206.75L265.10 208.00L263.75 209.25L262.50 210.60L261.25 209.25Z" fill="#000000"/><path d="M305.60 28.49 L308.05 28.95 L310.49 29.42 L312.94 29.90 L315.38 30.40 L317.83 30.90 L320.27 31.42 L322.72 31.94 L325.16 32.48 L327.61 33.04 L330.05 33.60 L332.50 34.18 L334.95 34.78 L337.39 35.39 L339.84 36.01 L342.28 36.66 L344.73 37.32 L347.17 37.99 L349.62 38.69 L352.06 39.40 L354.51 40.14 L356.95 40.89 L359.40 41.67 L361.85 42.47 L364.29 43.29 L366.74 44.14 L369.18 45.02 L371.63 45.92 L374.07 46.85 L376.52 47.81 L378.96 48.81 L381.41 49.84 L383.85 50.90 L386.30 52.01 L388.75 53.15 L391.19 54.34 L393.64 55.57 L396.08 56.85 L398.53 58.18 L400.97 59.57 L403.42 61.02 L405.86 62.54 L408.31 64.12 L410.75 65.78 L413.20 67.52 L415.65 69.36 L418.09 71.28 L420.54 73.32 L422.98 75.47 L425.43 77.76 L427.87 80.19 L430.32 82.78 L432.76 85.55 L435.21 88.53 L437.65 91.74 L440.10 95.23 L442.55 99.03 L444.99 103.21 L447.44 107.83 L449.88 112.99 L452.33 118.81 L454.77 125.48 L457.22 133.25 L459.66 142.51 L462.11 153.89 L464.55 168.53 L467.00 188.75 L468.68 208.60" fill="none" stroke="#0000ff" stroke-width="0.8"/>
<path d="M303.40 28.49L304.80 27.69L305.60 26.29L306.40 27.69L307.80 28.49L306.40 29.29L305.60 30.69L304.80 29.29ZM305.85 28.95L307.25 28.15L308.05 26.75L308.85 28.15L310.25 28.95L308.85 29.75L308.05 31.15L307.25 29.75ZM308.29 29.42L309.69 28.62L310.49 27.22L311.29 28.62L312.69 29.42L311.29 30.22L310.49 31.62L309.69 30.22ZM310.74 29.90L312.14 29.10L312.94 27.70L313.74 29.10L315.14 29.90L313.74 30.70L312.94 32.10L312.14 30.70ZM313.18 30.40L314.58 29.60L315.38 28.20L316.18 29.60L317.58 30.40L316.18 31.20L315.38 32.60L314.58 31.20ZM315.63 30.90L317.03 30.10L317.83 28.70L318.63 30.10L320.03 30.90L318.63 31.70L317.83 33.10L317.03 31.70ZM318.07 31.42L319.47 30.62L320.27 29.22L321.07 30.62L322.47 31.42L321.07 32.22L320.27 33.62L319.47 32.22ZM320.52 31.94L321.92 31.14L322.72 29.74L323.52 31.14L324.92 31.94L323.52 32.74L322.72 34.14L321.92 32.74ZM322.96 32.48L324.36 31.68L325.16 30.28L325.96 31.68L327.36 32.48L325.96 33.28L325.16 34.68L324.36 33.28ZM325.41 33.04L326.81 32.24L327.61 30.84L328.41 32.24L329.81 33.04L328.41 33.84L327.61 35.24L326.81 33.84ZM327.85 33.60L329.25 32.80L330.05 31.40L330.85 32.80L332.25 33.60L330.85 34.40L330.05 35.80L329.25 34.40ZM330.30 34.18L331.70 33.38L332.50 31.98L333.30 33.38L334.70 34.18L333.30 34.98L332.50 36.38L331.70 34.98ZM332.75 34.78L334.15 33.98L334.95 32.58L335.75 33.98L337.15 34.78L335.75 35.58L334.95 36.98L334.15 35.58ZM335.19 35.39L336.59 34.59L337.39 33.19L338.19 34.59L339.59 35.39L338.19 36.19L337.39 37.59L336.59 36.19ZM337.64 36.01L339.04 35.21L339.84 33.81L340.64 35.21L342.04 36.01L340.64 36.81L339.84 38.21L339.04 36.81ZM340.08 36.66L341.48 35.86L342.28 34.46L343.08 35.86L344.48 36.66L343.08 37.46L342.28 38.86L341.48 37.46ZM342.53 37.32L343.93 36.52L344.73 35.12L345.53 36.52L346.93 37.32L345.53 38.12L344.73 39.52L343.93 38.12ZM344.97 37.99L346.37 37.19L347.17 35.79L347.97 37.19L349.37 37.99L347.97 38.79L347.17 40.19L346.37 38.79ZM347.42 38.69L348.82 37.89L349.62 36.49L350.42 37.89L351.82 38.69L350.42 39.49L349.62 40.89L348.82 39.49ZM349.86 39.40L351.26 38.60L352.06 37.20L352.86 38.60L354.26 39.40L352.86 40.20L352.06 41.60L351.26 40.20ZM352.31 40.14L353.71 39.34L354.51 37.94L355.31 39.34L356.71 40.14L355.31 40.94L354.51 42.34L353.71 40.94ZM354.75 40.89L356.15 40.09L356.95 38.69L357.75 40.09L359.15 40.89L357.75 41.69L356.95 43.09L356.15 41.69ZM357.20 41.67L358.60 40.87L359.40 39.47L360.20 40.87L361.60 41.67L360.20 42.47L359.40 43.87L358.60 42.47ZM359.65 42.47L361.05 41.67L361.85 40.27L362.65 41.67L364.05 42.47L362.65 43.27L361.85 44.67L361.05 43.27ZM362.09 43.29L363.49 42.49L364.29 41.09L365.09 42.49L366.49 43.29L365.09 44.09L364.29 45.49L363.49 44.09ZM364.54 44.14L365.94 43.34L366.74 41.94L367.54 43.34L368.94 44.14L367.54 44.94L366.74 46.34L365.94 44.94ZM366.98 45.02L368.38 44.22L369.18 42.82L369.98 44.22L371.38 45.02L369.98 45.82L369.18 47.22L368.38 45.82ZM369.43 45.92L370.83 45.12L371.63 43.72L372.43 45.12L373.83 45.92L372.43 46.72L371.63 48.12L370.83 46.72ZM371.87 46.85L373.27 46.05L374.07 44.65L374.87 46.05L376.27 46.85L374.87 47.65L374.07 49.05L373.27 47.65ZM374.32 47.81L375.72 47.01L376.52 45.61L377.32 47.01L378.72 47.81L377.32 48.61L376.52 50.01L375.72 48.61ZM376.76 48.81L378.16 48.01L378.96 46.61L379.76 48.01L381.16 48.81L379.76 49.61L378.96 51.01L378.16 49.61ZM379.21 49.84L380.61 49.04L381.41 47.64L382.21 49.04L383.61 49.84L382.21 50.64L381.41 52.04L380.61 50.64ZM381.65 50.90L383.05 50.10L383.85 48.70L384.65 50.10L386.05 50.90L384.65 51.70L383.85 53.10L383.05 51.70ZM384.10 52.01L385.50 51.21L386.30 49.81L387.10 51.21L388.50 52.01L387.10 52.81L386.30 54.21L385.50 52.81ZM386.55 53.15L387.95 52.35L388.75 50.95L389.55 52.35L390.95 53.15L389.55 53.95L388.75 55.35L387.95 53.95ZM388.99 54.34L390.39 53.54L391.19 52.14L391.99 53.54L393.39 54.34L391.99 55.14L391.19 56.54L390.39 55.14ZM391.44 55.57L392.84 54.77L393.64 53.37L394.44 54.77L395.84 55.57L394.44 56.37L393.64 57.77L392.84 56.37ZM393.88 56.85L395.28 56.05L396.08 54.65L396.88 56.05L398.28 56.85L396.88 57.65L396.08 59.05L395.28 57.65ZM396.33 58.18L397.73 57.38L398.53 55.98L399.33 57.38L400.73 58.18L399.33 58.98L398.53 60.38L397.73 58.98ZM398.77 59.57L400.17 58.77L400.97 57.37L401.77 58.77L403.17 59.57L401.77 60.37L400.97 61.77L400.17 60.37ZM401.22 61.02L402.62 60.22L403.42 58.82L404.22 60.22L405.62 61.02L404.22 61.82L403.42 63.22L402.62 61.82ZM403.66 62.54L405.06 61.74L405.86 60.34L406.66 61.74L408.06 62.54L406.66 63.34L405.86 64.74L405.06 63.34ZM406.11 64.12L407.51 63.32L408.31 61.92L409.11 63.32L410.51 64.12L409.11 64.92L408.31 66.32L407.51 64.92ZM408.55 65.78L409.95 64.98L410.75 63.58L411.55 64.98L412.95 65.78L411.55 66.58L410.75 67.98L409.95 66.58ZM411.00 67.52L412.40 66.72L413.20 65.32L414.00 66.72L415.40 67.52L414.00 68.32L413.20 69.72L412.40 68.32ZM413.45 69.36L414.85 68.56L415.65 67.16L416.45 68.56L417.85 69.36L416.45 70.16L415.65 71.56L414.85 70.16ZM415.89 71.28L417.29 70.48L418.09 69.08L418.89 70.48L420.29 71.28L418.89 72.08L418.09 73.48L417.29 72.08ZM418.34 73.32L419.74 72.52L420.54 71.12L421.34 72.52L422.74 73.32L421.34 74.12L420.54 75.52L419.74 74.12ZM420.78 75.47L422.18 74.67L422.98 73.27L423.78 74.67L425.18 75.47L423.78 76.27L422.98 77.67L422.18 76.27ZM423.23 77.76L424.63 76.96L425.43 75.56L426.23 76.96L427.63 77.76L426.23 78.56L425.43 79.96L424.63 78.56ZM425.67 80.19L427.07 79.39L427.87 77.99L428.67 79.39L430.07 80.19L428.67 80.99L427.87 82.39L427.07 80.99ZM428.12 82.78L429.52 81.98L430.32 80.58L431.12 81.98L432.52 82.78L431.12 83.58L430.32 84.98L429.52 83.58ZM430.56 85.55L431.96 84.75L432.76 83.35L433.56 84.75L434.96 85.55L433.56 86.35L432.76 87.75L431.96 86.35ZM433.01 88.53L434.41 87.73L435.21 86.33L436.01 87.73L437.41 88.53L436.01 89.33L435.21 90.73L434.41 89.33ZM435.45 91.74L436.85 90.94L437.65 89.54L438.45 90.94L439.85 91.74L438.45 92.54L437.65 93.94L436.85 92.54ZM437.90 95.23L439.30 94.43L440.10 93.03L440.90 94.43L442.30 95.23L440.90 96.03L440.10 97.43L439.30 96.03ZM440.35 99.03L441.75 98.23L442.55 96.83L443.35 98.23L444.75 99.03L443.35 99.83L442.55 101.23L441.75 99.83ZM442.79 103.21L444.19 102.41L444.99 101.01L445.79 102.41L447.19 103.21L445.79 104.01L444.99 105.41L444.19 104.01ZM445.24 107.83L446.64 107.03L447.44 105.63L448.24 107.03L449.64 107.83L448.24 108.63L447.44 110.03L446.64 108.63ZM447.68 112.99L449.08 112.19L449.88 110.79L450.68 112.19L452.08 112.99L450.68 113.79L449.88 115.19L449.08 113.79ZM450.13 118.81L451.53 118.01L452.33 116.61L453.13 118.01L454.53 118.81L453.13 119.61L452.33 121.01L451.53 119.61ZM452.57 125.48L453.97 124.68L454.77 123.28L455.57 124.68L456.97 125.48L455.57 126.28L454.77 127.68L453.97 126.28ZM455.02 133.25L456.42 132.45L457.22 131.05L458.02 132.45L459.42 133.25L458.02 134.05L457.22 135.45L456.42 134.05ZM457.46 142.51L458.86 141.71L459.66 140.31L460.46 141.71L461.86 142.51L460.46 143.31L459.66 144.71L458.86 143.31ZM459.91 153.89L461.31 153.09L462.11 151.69L462.91 153.09L464.31 153.89L462.91 154.69L462.11 156.09L461.31 154.69ZM462.35 168.53L463.75 167.73L464.55 166.33L465.35 167.73L466.75 168.53L465.35 169.33L464.55 170.73L463.75 169.33ZM464.80 188.75L466.20 187.95L467.00 186.55L467.80 187.95L469.20 188.75L467.80 189.55L467.00 190.95L466.20 189.55Z" fill="#0000ff"/>
<path d="M305.60 36.25 L308.05 36.72 L310.49 37.19 L312.94 37.68 L315.38 38.18 L317.83 38.70 L320.27 39.23 L322.72 39.77 L325.16 40.33 L327.61 40.91 L330.05 41.50 L332.50 42.11 L334.95 42.74 L337.39 43.38 L339.84 44.05 L342.28 44.73 L344.73 45.44 L347.17 46.16 L349.62 46.91 L352.06 47.68 L354.51 48.48 L356.95 49.30 L359.40 50.14 L361.85 51.02 L364.29 51.92 L366.74 52.86 L369.18 53.82 L371.63 54.82 L374.07 55.86 L376.52 56.93 L378.96 58.04 L381.41 59.19 L383.85 60.39 L386.30 61.63 L388.75 62.92 L391.19 64.27 L393.64 65.67 L396.08 67.13 L398.53 68.65 L400.97 70.24 L403.42 71.90 L405.86 73.64 L408.31 75.46 L410.75 77.38 L413.20 79.39 L415.65 81.51 L418.09 83.75 L420.54 86.12 L422.98 88.62 L425.43 91.29 L427.87 94.12 L430.32 97.15 L432.76 100.40 L435.21 103.89 L437.65 107.66 L440.10 111.75 L442.55 116.21 L444.99 121.11 L447.44 126.52 L449.88 132.55 L452.33 139.35 L454.77 147.09 L457.22 156.05 L459.66 166.64 L462.11 179.49 L464.55 195.64 L466.12 208.60" fill="none" stroke="#ff0000" stroke-width="1.4"/>
<path d="M303.00 36.25L304.40 35.05L305.60 33.65L306.80 35.05L308.20 36.25L306.80 37.45L305.60 38.85L304.40 37.45ZM305.45 36.72L306.85 35.52L308.05 34.12L309.25 35.52L310.65 36.72L309.25 37.92L308.05 39.32L306.85 37.92ZM307.89 37.19L309.29 35.99L310.49 34.59L311.69 35.99L313.09 37.19L311.69 38.39L310.49 39.79L309.29 38.39ZM310.34 37.68L311.74 36.48L312.94 35.08L314.14 36.48L315.54 37.68L314.14 38.88L312.94 40.28L311.74 38.88ZM312.78 38.18L314.18 36.98L315.38 35.58L316.58 36.98L317.98 38.18L316.58 39.38L315.38 40.78L314.18 39.38ZM315.23 38.70L316.63 37.50L317.83 36.10L319.03 37.50L320.43 38.70L319.03 39.90L317.83 41.30L316.63 39.90ZM317.67 39.23L319.07 38.03L320.27 36.63L321.47 38.03L322.87 39.23L321.47 40.43L320.27 41.83L319.07 40.43ZM320.12 39.77L321.52 38.57L322.72 37.17L323.92 38.57L325.32 39.77L323.92 40.97L322.72 42.37L321.52 40.97ZM322.56 40.33L323.96 39.13L325.16 37.73L326.36 39.13L327.76 40.33L326.36 41.53L325.16 42.93L323.96 41.53ZM325.01 40.91L326.41 39.71L327.61 38.31L328.81 39.71L330.21 40.91L328.81 42.11L327.61 43.51L326.41 42.11ZM327.45 41.50L328.85 40.30L330.05 38.90L331.25 40.30L332.65 41.50L331.25 42.70L330.05 44.10L328.85 42.70ZM329.90 42.11L331.30 40.91L332.50 39.51L333.70 40.91L335.10 42.11L333.70 43.31L332.50 44.71L331.30 43.31ZM332.35 42.74L333.75 41.54L334.95 40.14L336.15 41.54L337.55 42.74L336.15 43.94L334.95 45.34L333.75 43.94ZM334.79 43.38L336.19 42.18L337.39 40.78L338.59 42.18L339.99 43.38L338.59 44.58L337.39 45.98L336.19 44.58ZM337.24 44.05L338.64 42.85L339.84 41.45L341.04 42.85L342.44 44.05L341.04 45.25L339.84 46.65L338.64 45.25ZM339.68 44.73L341.08 43.53L342.28 42.13L343.48 43.53L344.88 44.73L343.48 45.93L342.28 47.33L341.08 45.93ZM342.13 45.44L343.53 44.24L344.73 42.84L345.93 44.24L347.33 45.44L345.93 46.64L344.73 48.04L343.53 46.64ZM344.57 46.16L345.97 44.96L347.17 43.56L348.37 44.96L349.77 46.16L348.37 47.36L347.17 48.76L345.97 47.36ZM347.02 46.91L348.42 45.71L349.62 44.31L350.82 45.71L352.22 46.91L350.82 48.11L349.62 49.51L348.42 48.11ZM349.46 47.68L350.86 46.48L352.06 45.08L353.26 46.48L354.66 47.68L353.26 48.88L352.06 50.28L350.86 48.88ZM351.91 48.48L353.31 47.28L354.51 45.88L355.71 47.28L357.11 48.48L355.71 49.68L354.51 51.08L353.31 49.68ZM354.35 49.30L355.75 48.10L356.95 46.70L358.15 48.10L359.55 49.30L358.15 50.50L356.95 51.90L355.75 50.50ZM356.80 50.14L358.20 48.94L359.40 47.54L360.60 48.94L362.00 50.14L360.60 51.34L359.40 52.74L358.20 51.34ZM359.25 51.02L360.65 49.82L361.85 48.42L363.05 49.82L364.45 51.02L363.05 52.22L361.85 53.62L360.65 52.22ZM361.69 51.92L363.09 50.72L364.29 49.32L365.49 50.72L366.89 51.92L365.49 53.12L364.29 54.52L363.09 53.12ZM364.14 52.86L365.54 51.66L366.74 50.26L367.94 51.66L369.34 52.86L367.94 54.06L366.74 55.46L365.54 54.06ZM366.58 53.82L367.98 52.62L369.18 51.22L370.38 52.62L371.78 53.82L370.38 55.02L369.18 56.42L367.98 55.02ZM369.03 54.82L370.43 53.62L371.63 52.22L372.83 53.62L374.23 54.82L372.83 56.02L371.63 57.42L370.43 56.02ZM371.47 55.86L372.87 54.66L374.07 53.26L375.27 54.66L376.67 55.86L375.27 57.06L374.07 58.46L372.87 57.06ZM373.92 56.93L375.32 55.73L376.52 54.33L377.72 55.73L379.12 56.93L377.72 58.13L376.52 59.53L375.32 58.13ZM376.36 58.04L377.76 56.84L378.96 55.44L380.16 56.84L381.56 58.04L380.16 59.24L378.96 60.64L377.76 59.24ZM378.81 59.19L380.21 57.99L381.41 56.59L382.61 57.99L384.01 59.19L382.61 60.39L381.41 61.79L380.21 60.39ZM381.25 60.39L382.65 59.19L383.85 57.79L385.05 59.19L386.45 60.39L385.05 61.59L383.85 62.99L382.65 61.59ZM383.70 61.63L385.10 60.43L386.30 59.03L387.50 60.43L388.90 61.63L387.50 62.83L386.30 64.23L385.10 62.83ZM386.15 62.92L387.55 61.72L388.75 60.32L389.95 61.72L391.35 62.92L389.95 64.12L388.75 65.52L387.55 64.12ZM388.59 64.27L389.99 63.07L391.19 61.67L392.39 63.07L393.79 64.27L392.39 65.47L391.19 66.87L389.99 65.47ZM391.04 65.67L392.44 64.47L393.64 63.07L394.84 64.47L396.24 65.67L394.84 66.87L393.64 68.27L392.44 66.87ZM393.48 67.13L394.88 65.93L396.08 64.53L397.28 65.93L398.68 67.13L397.28 68.33L396.08 69.73L394.88 68.33ZM395.93 68.65L397.33 67.45L398.53 66.05L399.73 67.45L401.13 68.65L399.73 69.85L398.53 71.25L397.33 69.85ZM398.37 70.24L399.77 69.04L400.97 67.64L402.17 69.04L403.57 70.24L402.17 71.44L400.97 72.84L399.77 71.44ZM400.82 71.90L402.22 70.70L403.42 69.30L404.62 70.70L406.02 71.90L404.62 73.10L403.42 74.50L402.22 73.10ZM403.26 73.64L404.66 72.44L405.86 71.04L407.06 72.44L408.46 73.64L407.06 74.84L405.86 76.24L404.66 74.84ZM405.71 75.46L407.11 74.26L408.31 72.86L409.51 74.26L410.91 75.46L409.51 76.66L408.31 78.06L407.11 76.66ZM408.15 77.38L409.55 76.18L410.75 74.78L411.95 76.18L413.35 77.38L411.95 78.58L410.75 79.98L409.55 78.58ZM410.60 79.39L412.00 78.19L413.20 76.79L414.40 78.19L415.80 79.39L414.40 80.59L413.20 81.99L412.00 80.59ZM413.05 81.51L414.45 80.31L415.65 78.91L416.85 80.31L418.25 81.51L416.85 82.71L415.65 84.11L414.45 82.71ZM415.49 83.75L416.89 82.55L418.09 81.15L419.29 82.55L420.69 83.75L419.29 84.95L418.09 86.35L416.89 84.95ZM417.94 86.12L419.34 84.92L420.54 83.52L421.74 84.92L423.14 86.12L421.74 87.32L420.54 88.72L419.34 87.32ZM420.38 88.62L421.78 87.42L422.98 86.02L424.18 87.42L425.58 88.62L424.18 89.82L422.98 91.22L421.78 89.82ZM422.83 91.29L424.23 90.09L425.43 88.69L426.63 90.09L428.03 91.29L426.63 92.49L425.43 93.89L424.23 92.49ZM425.27 94.12L426.67 92.92L427.87 91.52L429.07 92.92L430.47 94.12L429.07 95.32L427.87 96.72L426.67 95.32ZM427.72 97.15L429.12 95.95L430.32 94.55L431.52 95.95L432.92 97.15L431.52 98.35L430.32 99.75L429.12 98.35ZM430.16 100.40L431.56 99.20L432.76 97.80L433.96 99.20L435.36 100.40L433.96 101.60L432.76 103.00L431.56 101.60ZM432.61 103.89L434.01 102.69L435.21 101.29L436.41 102.69L437.81 103.89L436.41 105.09L435.21 106.49L434.01 105.09ZM435.05 107.66L436.45 106.46L437.65 105.06L438.85 106.46L440.25 107.66L438.85 108.86L437.65 110.26L436.45 108.86ZM437.50 111.75L438.90 110.55L440.10 109.15L441.30 110.55L442.70 111.75L441.30 112.95L440.10 114.35L438.90 112.95ZM439.95 116.21L441.35 115.01L442.55 113.61L443.75 115.01L445.15 116.21L443.75 117.41L442.55 118.81L441.35 117.41ZM442.39 121.11L443.79 119.91L444.99 118.51L446.19 119.91L447.59 121.11L446.19 122.31L444.99 123.71L443.79 122.31ZM444.84 126.52L446.24 125.32L447.44 123.92L448.64 125.32L450.04 126.52L448.64 127.72L447.44 129.12L446.24 127.72ZM447.28 132.55L448.68 131.35L449.88 129.95L451.08 131.35L452.48 132.55L451.08 133.75L449.88 135.15L448.68 133.75ZM449.73 139.35L451.13 138.15L452.33 136.75L453.53 138.15L454.93 139.35L453.53 140.55L452.33 141.95L451.13 140.55ZM452.17 147.09L453.57 145.89L454.77 144.49L455.97 145.89L457.37 147.09L455.97 148.29L454.77 149.69L453.57 148.29ZM454.62 156.05L456.02 154.85L457.22 153.45L458.42 154.85L459.82 156.05L458.42 157.25L457.22 158.65L456.02 157.25ZM457.06 166.64L458.46 165.44L459.66 164.04L460.86 165.44L462.26 166.64L460.86 167.84L459.66 169.24L458.46 167.84ZM459.51 179.49L460.91 178.29L462.11 176.89L463.31 178.29L464.71 179.49L463.31 180.69L462.11 182.09L460.91 180.69ZM461.95 195.64L463.35 194.44L464.55 193.04L465.75 194.44L467.15 195.64L465.75 196.84L464.55 198.24L463.35 196.84Z" fill="#ff0000"/>
<path d="M305.60 41.77 L308.05 42.36 L310.49 42.97 L312.94 43.59 L315.38 44.22 L317.83 44.86 L320.27 45.51 L322.72 46.17 L325.16 46.85 L327.61 47.54 L330.05 48.25 L332.50 48.97 L334.95 49.70 L337.39 50.46 L339.84 51.23 L342.28 52.01 L344.73 52.82 L347.17 53.64 L349.62 54.49 L352.06 55.36 L354.51 56.24 L356.95 57.16 L359.40 58.09 L361.85 59.06 L364.29 60.05 L366.74 61.07 L369.18 62.12 L371.63 63.20 L374.07 64.32 L376.52 65.48 L378.96 66.67 L381.41 67.90 L383.85 69.18 L386.30 70.51 L388.75 71.88 L391.19 73.31 L393.64 74.80 L396.08 76.35 L398.53 77.96 L400.97 79.65 L403.42 81.41 L405.86 83.26 L408.31 85.19 L410.75 87.23 L413.20 89.38 L415.65 91.64 L418.09 94.03 L420.54 96.57 L422.98 99.26 L425.43 102.14 L427.87 105.20 L430.32 108.49 L432.76 112.03 L435.21 115.85 L437.65 119.99 L440.10 124.49 L442.55 129.42 L444.99 134.85 L447.44 140.87 L449.88 147.57 L452.33 155.12 L454.77 163.68 L457.22 173.52 L459.66 184.95 L462.11 198.47 L463.69 208.60" fill="none" stroke="#000000" stroke-width="1.5"/>
<path d="M303.00 41.77L304.40 40.57L305.60 39.17L306.80 40.57L308.20 41.77L306.80 42.97L305.60 44.37L304.40 42.97ZM305.45 42.36L306.85 41.16L308.05 39.76L309.25 41.16L310.65 42.36L309.25 43.56L308.05 44.96L306.85 43.56ZM307.89 42.97L309.29 41.77L310.49 40.37L311.69 41.77L313.09 42.97L311.69 44.17L310.49 45.57L309.29 44.17ZM310.34 43.59L311.74 42.39L312.94 40.99L314.14 42.39L315.54 43.59L314.14 44.79L312.94 46.19L311.74 44.79ZM312.78 44.22L314.18 43.02L315.38 41.62L316.58 43.02L317.98 44.22L316.58 45.42L315.38 46.82L314.18 45.42ZM315.23 44.86L316.63 43.66L317.83 42.26L319.03 43.66L320.43 44.86L319.03 46.06L317.83 47.46L316.63 46.06ZM317.67 45.51L319.07 44.31L320.27 42.91L321.47 44.31L322.87 45.51L321.47 46.71L320.27 48.11L319.07 46.71ZM320.12 46.17L321.52 44.97L322.72 43.57L323.92 44.97L325.32 46.17L323.92 47.37L322.72 48.77L321.52 47.37ZM322.56 46.85L323.96 45.65L325.16 44.25L326.36 45.65L327.76 46.85L326.36 48.05L325.16 49.45L323.96 48.05ZM325.01 47.54L326.41 46.34L327.61 44.94L328.81 46.34L330.21 47.54L328.81 48.74L327.61 50.14L326.41 48.74ZM327.45 48.25L328.85 47.05L330.05 45.65L331.25 47.05L332.65 48.25L331.25 49.45L330.05 50.85L328.85 49.45ZM329.90 48.97L331.30 47.77L332.50 46.37L333.70 47.77L335.10 48.97L333.70 50.17L332.50 51.57L331.30 50.17ZM332.35 49.70L333.75 48.50L334.95 47.10L336.15 48.50L337.55 49.70L336.15 50.90L334.95 52.30L333.75 50.90ZM334.79 50.46L336.19 49.26L337.39 47.86L338.59 49.26L339.99 50.46L338.59 51.66L337.39 53.06L336.19 51.66ZM337.24 51.23L338.64 50.03L339.84 48.63L341.04 50.03L342.44 51.23L341.04 52.43L339.84 53.83L338.64 52.43ZM339.68 52.01L341.08 50.81L342.28 49.41L343.48 50.81L344.88 52.01L343.48 53.21L342.28 54.61L341.08 53.21ZM342.13 52.82L343.53 51.62L344.73 50.22L345.93 51.62L347.33 52.82L345.93 54.02L344.73 55.42L343.53 54.02ZM344.57 53.64L345.97 52.44L347.17 51.04L348.37 52.44L349.77 53.64L348.37 54.84L347.17 56.24L345.97 54.84ZM347.02 54.49L348.42 53.29L349.62 51.89L350.82 53.29L352.22 54.49L350.82 55.69L349.62 57.09L348.42 55.69ZM349.46 55.36L350.86 54.16L352.06 52.76L353.26 54.16L354.66 55.36L353.26 56.56L352.06 57.96L350.86 56.56ZM351.91 56.24L353.31 55.04L354.51 53.64L355.71 55.04L357.11 56.24L355.71 57.44L354.51 58.84L353.31 57.44ZM354.35 57.16L355.75 55.96L356.95 54.56L358.15 55.96L359.55 57.16L358.15 58.36L356.95 59.76L355.75 58.36ZM356.80 58.09L358.20 56.89L359.40 55.49L360.60 56.89L362.00 58.09L360.60 59.29L359.40 60.69L358.20 59.29ZM359.25 59.06L360.65 57.86L361.85 56.46L363.05 57.86L364.45 59.06L363.05 60.26L361.85 61.66L360.65 60.26ZM361.69 60.05L363.09 58.85L364.29 57.45L365.49 58.85L366.89 60.05L365.49 61.25L364.29 62.65L363.09 61.25ZM364.14 61.07L365.54 59.87L366.74 58.47L367.94 59.87L369.34 61.07L367.94 62.27L366.74 63.67L365.54 62.27ZM366.58 62.12L367.98 60.92L369.18 59.52L370.38 60.92L371.78 62.12L370.38 63.32L369.18 64.72L367.98 63.32ZM369.03 63.20L370.43 62.00L371.63 60.60L372.83 62.00L374.23 63.20L372.83 64.40L371.63 65.80L370.43 64.40ZM371.47 64.32L372.87 63.12L374.07 61.72L375.27 63.12L376.67 64.32L375.27 65.52L374.07 66.92L372.87 65.52ZM373.92 65.48L375.32 64.28L376.52 62.88L377.72 64.28L379.12 65.48L377.72 66.68L376.52 68.08L375.32 66.68ZM376.36 66.67L377.76 65.47L378.96 64.07L380.16 65.47L381.56 66.67L380.16 67.87L378.96 69.27L377.76 67.87ZM378.81 67.90L380.21 66.70L381.41 65.30L382.61 66.70L384.01 67.90L382.61 69.10L381.41 70.50L380.21 69.10ZM381.25 69.18L382.65 67.98L383.85 66.58L385.05 67.98L386.45 69.18L385.05 70.38L383.85 71.78L382.65 70.38ZM383.70 70.51L385.10 69.31L386.30 67.91L387.50 69.31L388.90 70.51L387.50 71.71L386.30 73.11L385.10 71.71ZM386.15 71.88L387.55 70.68L388.75 69.28L389.95 70.68L391.35 71.88L389.95 73.08L388.75 74.48L387.55 73.08ZM388.59 73.31L389.99 72.11L391.19 70.71L392.39 72.11L393.79 73.31L392.39 74.51L391.19 75.91L389.99 74.51ZM391.04 74.80L392.44 73.60L393.64 72.20L394.84 73.60L396.24 74.80L394.84 76.00L393.64 77.40L392.44 76.00ZM393.48 76.35L394.88 75.15L396.08 73.75L397.28 75.15L398.68 76.35L397.28 77.55L396.08 78.95L394.88 77.55ZM395.93 77.96L397.33 76.76L398.53 75.36L399.73 76.76L401.13 77.96L399.73 79.16L398.53 80.56L397.33 79.16ZM398.37 79.65L399.77 78.45L400.97 77.05L402.17 78.45L403.57 79.65L402.17 80.85L400.97 82.25L399.77 80.85ZM400.82 81.41L402.22 80.21L403.42 78.81L404.62 80.21L406.02 81.41L404.62 82.61L403.42 84.01L402.22 82.61ZM403.26 83.26L404.66 82.06L405.86 80.66L407.06 82.06L408.46 83.26L407.06 84.46L405.86 85.86L404.66 84.46ZM405.71 85.19L407.11 83.99L408.31 82.59L409.51 83.99L410.91 85.19L409.51 86.39L408.31 87.79L407.11 86.39ZM408.15 87.23L409.55 86.03L410.75 84.63L411.95 86.03L413.35 87.23L411.95 88.43L410.75 89.83L409.55 88.43ZM410.60 89.38L412.00 88.18L413.20 86.78L414.40 88.18L415.80 89.38L414.40 90.58L413.20 91.98L412.00 90.58ZM413.05 91.64L414.45 90.44L415.65 89.04L416.85 90.44L418.25 91.64L416.85 92.84L415.65 94.24L414.45 92.84ZM415.49 94.03L416.89 92.83L418.09 91.43L419.29 92.83L420.69 94.03L419.29 95.23L418.09 96.63L416.89 95.23ZM417.94 96.57L419.34 95.37L420.54 93.97L421.74 95.37L423.14 96.57L421.74 97.77L420.54 99.17L419.34 97.77ZM420.38 99.26L421.78 98.06L422.98 96.66L424.18 98.06L425.58 99.26L424.18 100.46L422.98 101.86L421.78 100.46ZM422.83 102.14L424.23 100.94L425.43 99.54L426.63 100.94L428.03 102.14L426.63 103.34L425.43 104.74L424.23 103.34ZM425.27 105.20L426.67 104.00L427.87 102.60L429.07 104.00L430.47 105.20L429.07 106.40L427.87 107.80L426.67 106.40ZM427.72 108.49L429.12 107.29L430.32 105.89L431.52 107.29L432.92 108.49L431.52 109.69L430.32 111.09L429.12 109.69ZM430.16 112.03L431.56 110.83L432.76 109.43L433.96 110.83L435.36 112.03L433.96 113.23L432.76 114.63L431.56 113.23ZM432.61 115.85L434.01 114.65L435.21 113.25L436.41 114.65L437.81 115.85L436.41 117.05L435.21 118.45L434.01 117.05ZM435.05 119.99L436.45 118.79L437.65 117.39L438.85 118.79L440.25 119.99L438.85 121.19L437.65 122.59L436.45 121.19ZM437.50 124.49L438.90 123.29L440.10 121.89L441.30 123.29L442.70 124.49L441.30 125.69L440.10 127.09L438.90 125.69ZM439.95 129.42L441.35 128.22L442.55 126.82L443.75 128.22L445.15 129.42L443.75 130.62L442.55 132.02L441.35 130.62ZM442.39 134.85L443.79 133.65L444.99 132.25L446.19 133.65L447.59 134.85L446.19 136.05L444.99 137.45L443.79 136.05ZM444.84 140.87L446.24 139.67L447.44 138.27L448.64 139.67L450.04 140.87L448.64 142.07L447.44 143.47L446.24 142.07ZM447.28 147.57L448.68 146.37L449.88 144.97L451.08 146.37L452.48 147.57L451.08 148.77L449.88 150.17L448.68 148.77ZM449.73 155.12L451.13 153.92L452.33 152.52L453.53 153.92L454.93 155.12L453.53 156.32L452.33 157.72L451.13 156.32ZM452.17 163.68L453.57 162.48L454.77 161.08L455.97 162.48L457.37 163.68L455.97 164.88L454.77 166.28L453.57 164.88ZM454.62 173.52L456.02 172.32L457.22 170.92L458.42 172.32L459.82 173.52L458.42 174.72L457.22 176.12L456.02 174.72ZM457.06 184.95L458.46 183.75L459.66 182.35L460.86 183.75L462.26 184.95L460.86 186.15L459.66 187.55L458.46 186.15ZM459.51 198.47L460.91 197.27L462.11 195.87L463.31 197.27L464.71 198.47L463.31 199.67L462.11 201.07L460.91 199.67Z" fill="#000000"/><text x="103" y="234.4" font-size="8.8" font-weight="bold" text-anchor="start" fill="#111" textLength="64" lengthAdjust="spacingAndGlyphs">Gate voltage (V)</text>
<text x="395" y="235.1" font-size="8.8" font-weight="bold" text-anchor="start" fill="#111" textLength="66" lengthAdjust="spacingAndGlyphs">Gate voltage (V)</text>
<text transform="translate(7.2 153.8) rotate(-90)" font-size="8.8" font-weight="bold" fill="#111" textLength="91.2" lengthAdjust="spacingAndGlyphs">Transconductance (S)</text>
<text transform="translate(280.6 157.5) rotate(-90)" font-size="9" font-weight="bold" fill="#111" textLength="95" lengthAdjust="spacingAndGlyphs">Transconductance (S)</text>
<text x="123.9" y="32.6" font-size="10.5" font-weight="bold" text-anchor="start" fill="#111" textLength="13.5" lengthAdjust="spacingAndGlyphs">(a)</text>
<text x="406.8" y="27.2" font-size="10.5" font-weight="bold" text-anchor="start" fill="#111" textLength="14.2" lengthAdjust="spacingAndGlyphs">(b)</text>
<text x="182.4" y="28.7" font-size="8" font-weight="normal" text-anchor="start" fill="#444444" stroke="#444444" stroke-width="0.12" textLength="63.8" lengthAdjust="spacingAndGlyphs">Drain voltage = -1 V</text>
<text x="473.4" y="24.4" font-size="8" font-weight="normal" text-anchor="start" fill="#444444" stroke="#444444" stroke-width="0.12" textLength="64.2" lengthAdjust="spacingAndGlyphs">Drain voltage = -1 V</text>
<text x="100.3" y="99.1" font-size="8" font-weight="normal" text-anchor="start" fill="#444444" stroke="#444444" stroke-width="0.12" textLength="31.7" lengthAdjust="spacingAndGlyphs">Increasing</text>
<text x="83.7" y="107.9" font-size="8" font-weight="normal" text-anchor="start" fill="#444444" stroke="#444444" stroke-width="0.12" textLength="68" lengthAdjust="spacingAndGlyphs">Gate Oxide thickness</text>
<text x="95.8" y="116.6" font-size="8" font-weight="normal" text-anchor="start" fill="#444444" stroke="#444444" stroke-width="0.12" textLength="41.2" lengthAdjust="spacingAndGlyphs">(2nm to 4nm)</text>
<text x="323" y="113.9" font-size="8" font-weight="normal" text-anchor="start" fill="#444444" stroke="#444444" stroke-width="0.12" textLength="60.2" lengthAdjust="spacingAndGlyphs">Gate Oxide Scaling</text>
<text x="325.9" y="122.8" font-size="8" font-weight="normal" text-anchor="start" fill="#444444" stroke="#444444" stroke-width="0.12" textLength="53.7" lengthAdjust="spacingAndGlyphs">(4nm, 3nm, 2nm)</text>
<path d="M83.75 119.00L40.01 193.78" stroke="#555" stroke-width="0.9" fill="none"/>
<path d="M37.10 198.75L38.38 190.23L40.01 193.78L43.90 193.46Z" fill="#111"/>
<path d="M384.70 105.80L449.99 61.34" stroke="#555" stroke-width="0.9" fill="none"/>
<path d="M454.75 58.10L449.94 65.25L449.99 61.34L446.34 59.96Z" fill="#111"/>

</svg>
</body></html>
